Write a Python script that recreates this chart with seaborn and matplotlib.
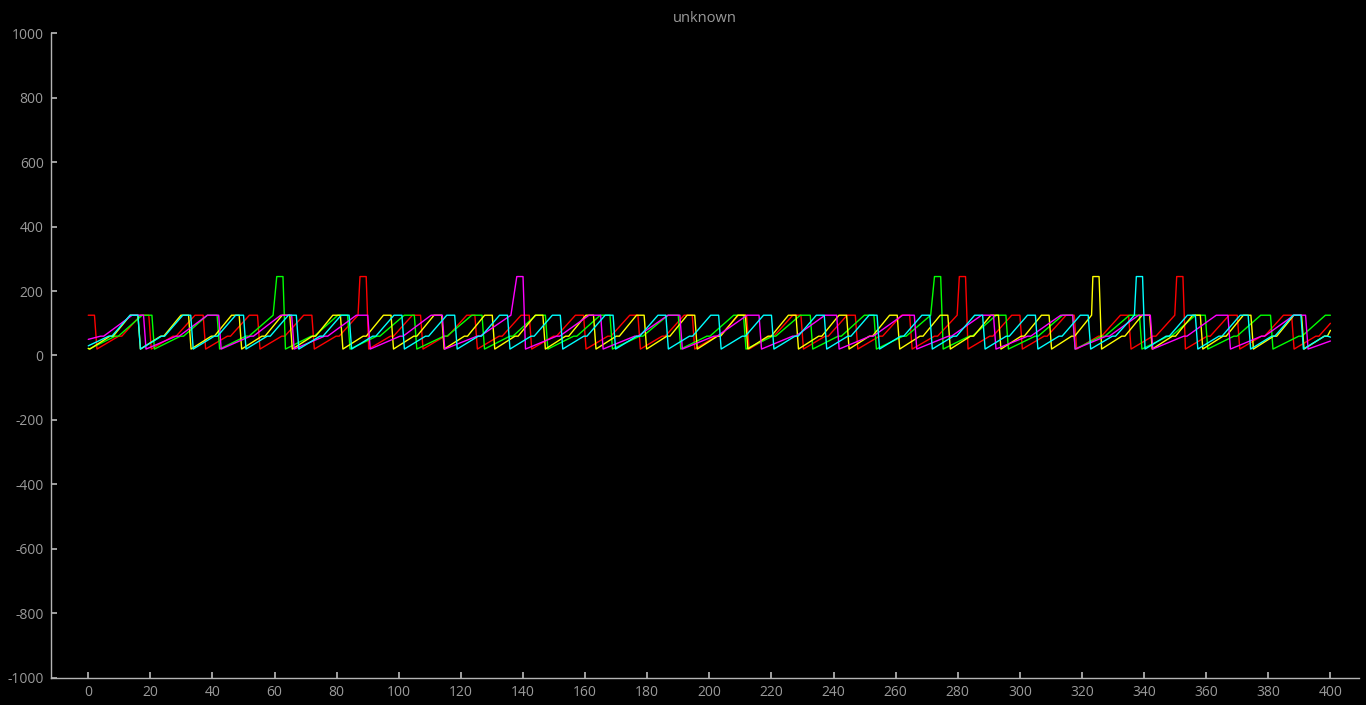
import numpy as np
import pandas as pd
import matplotlib
matplotlib.use("Agg")
import matplotlib.pyplot as plt
import seaborn as sns

# Five sawtooth traces.
# Each trace climbs from a floor to a ceiling and falls back; the lists hold
# the x positions where each trace falls back to its floor.
series_names = ["red", "green", "yellow", "magenta", "cyan"]
series_colors = ["#ff0000", "#00ff00", "#ffff00", "#ff00ff", "#00ffff"]

red_drops = [-15.5, 2, 19.5, 37, 54.5, 72, 89.5, 107, 124.5, 142, 159.5, 177,
             194.5, 212, 229.5, 247, 264.5, 282.5, 300, 317.5, 335, 352.5,
             370, 387.5, 405]
green_drops = [-0.5, 20.5, 41.5, 62.7, 83.5, 105, 126.8, 147.2, 168, 190,
               211, 232.5, 253, 274.5, 295.5, 317, 338.5, 359.7, 380.7, 401.5]
yellow_drops = [-0.3, 16, 32.3, 48.6, 64.9, 81.2, 97.5, 113.8, 130.1, 146.4,
                162.7, 179, 195.3, 211.6, 227.9, 244.2, 260.5, 276.8, 293.1,
                309.4, 325.5, 341.8, 358.1, 374.4, 390.7, 407]
magenta_drops = [-6.6, 17.8, 42, 65.5, 90, 114, 140, 165, 190.5, 216, 241,
                 266, 291.5, 317, 342, 367, 392, 417]
cyan_drops = [-1, 16, 33, 50, 67, 84, 101, 118, 135, 152, 169, 186, 203, 220,
              237, 254, 271, 288, 305, 322, 339.5, 356.5, 373.5, 390.5, 407.5]

# teeth that end in a short burst instead of the usual ceiling
red_spikes = [89.5, 282.5, 352.5]
green_spikes = [62.7, 274.5]
yellow_spikes = [325.5]
magenta_spikes = [140]
cyan_spikes = [339.5]

start_values = [125, 22, 22, 50, 30]
end_values = [100, 125, 78, 45, 57]

floor_level = 20
step_level = 60
ceiling_level = 125
spike_level = 245
x_first, x_last = 0, 400

x_ticks = list(range(0, 401, 20))
y_ticks = list(range(-1000, 1001, 200))


def trace_vertices(drops, spikes, start, end):
    xs, ys = [x_first], [start]
    for a, b in zip(drops[:-1], drops[1:]):
        p = b - a
        pts = [(a + 0.8, floor_level),
               (a + 0.8 + 0.4 * p, step_level),
               (a + 1.8 + 0.4 * p, step_level),
               (b - 0.15 * p, ceiling_level)]
        if b in spikes:
            pts += [(b - 2, spike_level), (b, spike_level)]
        else:
            pts += [(b, ceiling_level)]
        for x, y in pts:
            if x_first < x < x_last:
                xs.append(x)
                ys.append(y)
    xs.append(x_last)
    ys.append(end)
    return xs, ys


all_drops = [red_drops, green_drops, yellow_drops, magenta_drops, cyan_drops]
all_spikes = [red_spikes, green_spikes, yellow_spikes, magenta_spikes, cyan_spikes]

frames = []
for name, drops, spikes, s, e in zip(series_names, all_drops, all_spikes,
                                     start_values, end_values):
    xs, ys = trace_vertices(drops, spikes, s, e)
    frames.append(pd.DataFrame({"x": xs, "y": ys, "series": name}))
df = pd.concat(frames, ignore_index=True)

sns.set_theme(style="white", rc={
    "figure.facecolor": "black",
    "axes.facecolor": "black",
    "axes.edgecolor": "#b4b4b4",
    "axes.linewidth": 1.0,
    "xtick.color": "#b4b4b4",
    "ytick.color": "#b4b4b4",
    "xtick.labelcolor": "#9a9a9a",
    "ytick.labelcolor": "#9a9a9a",
    "text.color": "#9a9a9a",
    "xtick.direction": "in",
    "ytick.direction": "in",
    "xtick.bottom": True,
    "ytick.left": True,
    "xtick.major.size": 4,
    "ytick.major.size": 4,
    "xtick.major.pad": 5,
    "ytick.major.pad": 5,
    "axes.unicode_minus": False,
})
plt.rcParams["font.family"] = ["Open Sans", "DejaVu Sans"]

fig = plt.figure(figsize=(13.66, 7.05), dpi=100)
ax = fig.add_axes([0.0371, 0.0387, 0.958, 0.9141])

sns.lineplot(data=df, x="x", y="y", hue="series", hue_order=series_names,
             palette=dict(zip(series_names, series_colors)), sort=False,
             estimator=None, linewidth=1.0, legend=False, ax=ax)

ax.set_xlim(-12.1, 409.3)
ax.set_ylim(-1000, 1000)
ax.set_xticks(x_ticks)
ax.set_yticks(y_ticks)
ax.tick_params(labelsize=10)
ax.set_xlabel("")
ax.set_ylabel("")
ax.set_title("unknown", fontsize=10.5, color="#9a9a9a", pad=8)
sns.despine(ax=ax)

fig.savefig("out.png", dpi=100, facecolor="black")
